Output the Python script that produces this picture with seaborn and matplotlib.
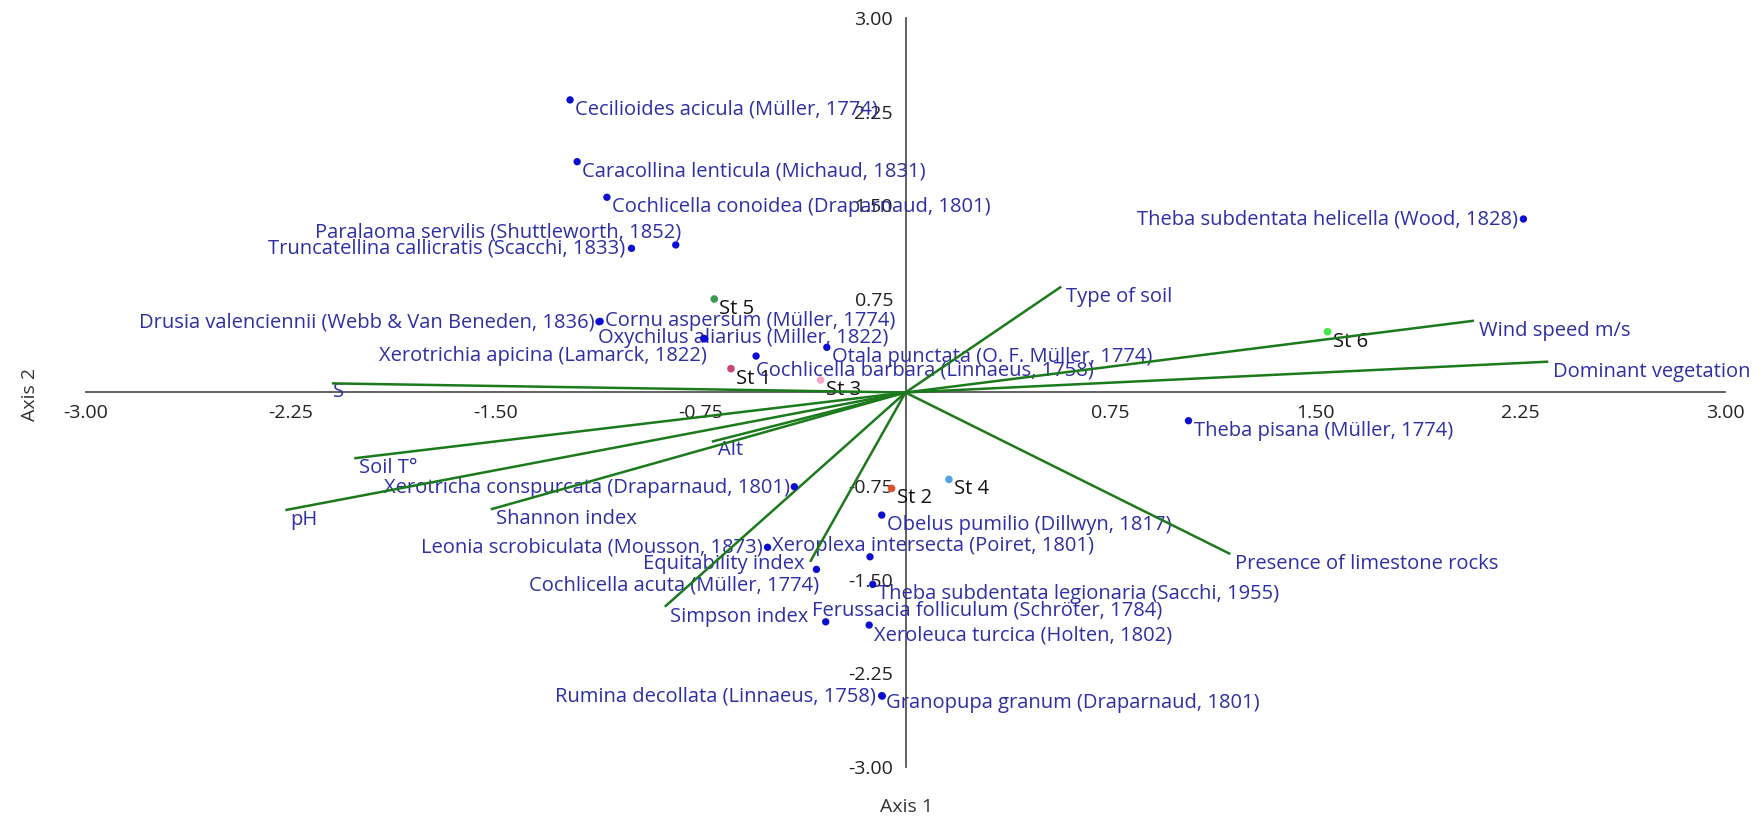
import matplotlib
matplotlib.use("Agg")
import matplotlib.pyplot as plt
import seaborn as sns
import pandas as pd

# species scores (axis 1, axis 2)
species = [
    "Cecilioides acicula (Müller, 1774)",
    "Caracollina lenticula (Michaud, 1831)",
    "Cochlicella conoidea (Draparnaud, 1801)",
    "Paralaoma servilis (Shuttleworth, 1852)",
    "Truncatellina callicratis (Scacchi, 1833)",
    "Drusia valenciennii (Webb & Van Beneden, 1836)",
    "Cornu aspersum (Müller, 1774)",
    "Oxychilus aliarius (Miller, 1822)",
    "Xerotrichia apicina (Lamarck, 1822)",
    "Otala punctata (O. F. Müller, 1774)",
    "Cochlicella barbara (Linnaeus, 1758)",
    "Theba subdentata helicella (Wood, 1828)",
    "Theba pisana (Müller, 1774)",
    "Xerotricha conspurcata (Draparnaud, 1801)",
    "Leonia scrobiculata (Mousson, 1873)",
    "Xeroplexa intersecta (Poiret, 1801)",
    "Cochlicella acuta (Müller, 1774)",
    "Obelus pumilio (Dillwyn, 1817)",
    "Theba subdentata legionaria (Sacchi, 1955)",
    "Ferussacia folliculum (Schröter, 1784)",
    "Xeroleuca turcica (Holten, 1802)",
    "Rumina decollata (Linnaeus, 1758)",
    "Granopupa granum (Draparnaud, 1801)",
]
sp_x = [-1.228, -1.202, -1.093, -0.841, -1.003, -1.122, -1.118, -0.739, -0.735,
        -0.288, -0.547, 2.262, 1.036, -0.407, -0.505, -0.130, -0.326, -0.087,
        -0.120, -0.292, -0.133, -0.087, -0.085]
sp_y = [2.344, 1.849, 1.564, 1.182, 1.155, 0.567, 0.570, 0.434, 0.430,
        0.362, 0.292, 1.390, -0.226, -0.755, -1.240, -1.316, -1.417, -0.982,
        -1.537, -1.837, -1.863, -2.429, -2.432]

# station scores
stations = ["St 1", "St 2", "St 3", "St 4", "St 5", "St 6"]
st_x = [-0.639, -0.051, -0.311, 0.159, -0.700, 1.545]
st_y = [0.191, -0.768, 0.100, -0.696, 0.749, 0.487]
st_colors = ["#c8457a", "#e0502a", "#f4a6c8", "#55a5e0", "#3c9a50", "#44e84a"]

# environmental vectors
env_vars = ["S", "Soil T°", "pH", "Shannon index", "Alt", "Equitability index",
            "Simpson index", "Type of soil", "Wind speed m/s", "Dominant vegetation",
            "Presence of limestone rocks"]
env_x = [-2.100, -2.018, -2.270, -1.518, -0.709, -0.349, -0.881, 0.570, 2.081, 2.353, 1.189]
env_y = [0.073, -0.527, -0.942, -0.936, -0.394, -1.356, -1.716, 0.848, 0.575, 0.247, -1.294]

ticks = [-3.00, -2.25, -1.50, -0.75, 0.75, 1.50, 2.25, 3.00]

# label placement: (ha, dx, dy) in pixels, default right-below the point
default_pos = ("left", 5, -10)
label_pos = {
    "Paralaoma servilis (Shuttleworth, 1852)": ("right", 5, 12),
    "Truncatellina callicratis (Scacchi, 1833)": ("right", -6, 0),
    "Drusia valenciennii (Webb & Van Beneden, 1836)": ("right", -4, -1),
    "Cornu aspersum (Müller, 1774)": ("left", 5, 0),
    "Oxychilus aliarius (Miller, 1822)": ("left", -106, 0),
    "Xerotrichia apicina (Lamarck, 1822)": ("right", 2, -17),
    "Cochlicella barbara (Linnaeus, 1758)": ("left", 0, -14),
    "Theba subdentata helicella (Wood, 1828)": ("right", -5, -1),
    "Xerotricha conspurcata (Draparnaud, 1801)": ("right", -4, -1),
    "Leonia scrobiculata (Mousson, 1873)": ("right", -5, 0),
    "Xeroplexa intersecta (Poiret, 1801)": ("left", -98, 11),
    "Cochlicella acuta (Müller, 1774)": ("right", 3, -16),
    "Ferussacia folliculum (Schröter, 1784)": ("left", -14, 11),
    "Rumina decollata (Linnaeus, 1758)": ("right", -6, -1),
    "Granopupa granum (Draparnaud, 1801)": ("left", 4, -7),
    "S": ("left", 1, -9),
    "Alt": ("left", 6, -8),
    "Equitability index": ("right", -6, -2),
}

sns.set_style("white")
plt.rcParams["font.family"] = ["Open Sans", "DejaVu Sans"]

fig = plt.figure(figsize=(17.63, 8.30), dpi=100)
ax = fig.add_axes([86 / 1763, 63 / 830, 1639 / 1763, 749 / 830])

text_blue = "#2e2ea6"
line_green = "#1b7a1b"
fs = 14.5
tick_fs = 14

# vectors from origin
for name, x, y in zip(env_vars, env_x, env_y):
    ax.plot([0, x], [0, y], color=line_green, lw=1.8, zorder=3, solid_capstyle="butt")
    ha, dx, dy = label_pos.get(name, default_pos)
    ax.annotate(name, (x, y), xytext=(dx, dy), textcoords="offset pixels",
                ha=ha, va="center", color=text_blue, fontsize=fs, zorder=2)

sp_df = pd.DataFrame({"Axis 1": sp_x, "Axis 2": sp_y, "name": species})
sns.scatterplot(data=sp_df, x="Axis 1", y="Axis 2", ax=ax, color="#0c0cd2",
                s=28, edgecolor="none", zorder=4, legend=False)
for name, x, y in zip(species, sp_x, sp_y):
    ha, dx, dy = label_pos.get(name, default_pos)
    ax.annotate(name, (x, y), xytext=(dx, dy), textcoords="offset pixels",
                ha=ha, va="center", color=text_blue, fontsize=fs, zorder=2)

st_df = pd.DataFrame({"Axis 1": st_x, "Axis 2": st_y, "station": stations})
sns.scatterplot(data=st_df, x="Axis 1", y="Axis 2", hue="station", palette=st_colors,
                ax=ax, s=30, edgecolor="none", zorder=4, legend=False)
for name, x, y in zip(stations, st_x, st_y):
    ax.annotate(name, (x, y), xytext=(5, -10), textcoords="offset pixels",
                ha="left", va="center", color="#111111", fontsize=fs, zorder=2)

ax.set_xlim(-3, 3)
ax.set_ylim(-3, 3)
for side in ["top", "right"]:
    ax.spines[side].set_visible(False)
ax.spines["left"].set_position(("data", 0))
ax.spines["bottom"].set_position(("data", 0))
for side in ["left", "bottom"]:
    ax.spines[side].set_color("#555555")
    ax.spines[side].set_linewidth(1.3)
    ax.spines[side].set_zorder(1)

ax.set_xticks(ticks)
ax.set_yticks(ticks)
ax.set_xticklabels([f"{t:.2f}" for t in ticks])
ax.set_yticklabels([f"{t:.2f}" for t in ticks])
ax.tick_params(axis="both", direction="out", length=5, width=1.2, color="#555555",
               labelsize=tick_fs, labelcolor="#222222")
ax.tick_params(axis="x", pad=3)
ax.tick_params(axis="y", pad=4)

ax.set_xlabel("")
ax.set_ylabel("")
fig.text(906 / 1763, 1 - 807 / 830, "Axis 1", ha="center", va="center",
         fontsize=tick_fs, color="#333333")
fig.text(30 / 1763, 1 - 394 / 830, "Axis 2", ha="center", va="center",
         rotation=90, fontsize=tick_fs, color="#333333")

fig.savefig("out.png", dpi=100)
